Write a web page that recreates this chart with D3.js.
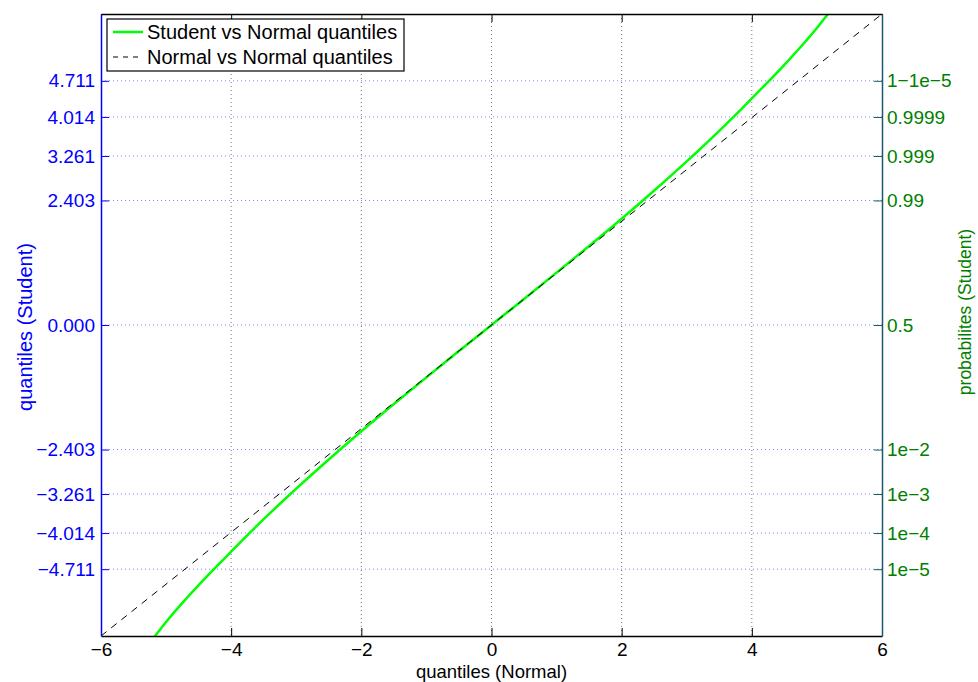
<!DOCTYPE html>
<html>
<head>
<meta charset="utf-8">
<script src="https://cdn.jsdelivr.net/npm/d3@7"></script>
<style>
  body { margin: 0; background: #fff; }
  svg { display: block; font-family: "Liberation Sans", Arial, Helvetica, sans-serif; }
</style>
</head>
<body>
<svg id="chart" width="978" height="682"></svg>
<script>
// ---- data ----
const xTicks = [-6, -4, -2, 0, 2, 4, 6];
const xTickLabels = ["\u22126", "\u22124", "\u22122", "0", "2", "4", "6"];
const yTicks = [-4.711, -4.014, -3.261, -2.403, 0, 2.403, 3.261, 4.014, 4.711];
const yTickLabels = ["\u22124.711", "\u22124.014", "\u22123.261", "\u22122.403", "0.000", "2.403", "3.261", "4.014", "4.711"];
const probLabels = ["1e\u22125", "1e\u22124", "1e\u22123", "1e\u22122", "0.5", "0.99", "0.999", "0.9999", "1\u22121e\u22125"];
// Student (50 dof) quantile vs normal quantile
const normalQ  = [-5.3, -5.17, -5, -4.5, -4.265, -4, -3.719, -3.5, -3.09, -3, -2.5, -2.326, -2, -1.5, -1, -0.5, 0, 0.5, 1, 1.5, 2, 2.326, 2.5, 3, 3.09, 3.5, 3.719, 4, 4.265, 4.5, 5, 5.17, 5.3];
const studentQ = [-6.2, -6.0, -5.73, -5.02, -4.711, -4.37, -4.014, -3.746, -3.261, -3.157, -2.594, -2.403, -2.051, -1.525, -1.01, -0.503, 0, 0.503, 1.01, 1.525, 2.051, 2.403, 2.594, 3.157, 3.261, 3.746, 4.014, 4.37, 4.711, 5.02, 5.73, 6.0, 6.2];
const diagX = [-6, 6];
const diagY = [-6, 6];
const seriesNames = ["Student vs Normal quantiles", "Normal vs Normal quantiles"];

// ---- layout ----
const L = 101, R = 882, T = 14, B = 636;
const svg = d3.select("#chart");
const x = d3.scaleLinear().domain([-6, 6]).range([L, R]);
const y = d3.scaleLinear().domain([-6, 6]).range([B, T]);

const blue = "#0000ff", green = "#008000", lime = "#00ff00";

// grid
const grid = svg.append("g");
grid.selectAll("line.gx").data(xTicks.slice(1, -1)).join("line")
  .attr("x1", d => x(d)).attr("x2", d => x(d)).attr("y1", T).attr("y2", B)
  .attr("stroke", "#7a7a7a").attr("stroke-width", 1).attr("stroke-dasharray", "1,3");
grid.selectAll("line.gy").data(yTicks).join("line")
  .attr("x1", L).attr("x2", R).attr("y1", d => y(d)).attr("y2", d => y(d))
  .attr("stroke", "#7f7fff").attr("stroke-width", 1).attr("stroke-dasharray", "1,3");

// clip
svg.append("clipPath").attr("id", "clip").append("rect")
  .attr("x", L).attr("y", T).attr("width", R - L).attr("height", B - T);

const plot = svg.append("g").attr("clip-path", "url(#clip)");
const line = d3.line().x(d => x(d[0])).y(d => y(d[1])).curve(d3.curveMonotoneX);
plot.append("path").datum(normalQ.map((v, i) => [v, studentQ[i]]))
  .attr("d", line).attr("fill", "none").attr("stroke", lime).attr("stroke-width", 2.5);
plot.append("path").datum(diagX.map((v, i) => [v, diagY[i]]))
  .attr("d", d3.line().x(d => x(d[0])).y(d => y(d[1])))
  .attr("fill", "none").attr("stroke", "#000").attr("stroke-width", 1).attr("stroke-dasharray", "7,6");

// axes
const xAxisB = d3.axisBottom(x).tickValues(xTicks).tickFormat((d, i) => xTickLabels[i]).tickSizeInner(-8).tickSizeOuter(0).tickPadding(7);
const gxb = svg.append("g").attr("transform", `translate(0,${B})`).call(xAxisB);
gxb.select(".domain").attr("stroke", "#000").attr("stroke-width", 1.5);
gxb.selectAll(".tick line").attr("stroke", "#000");
gxb.selectAll("text").attr("font-size", 19).attr("fill", "#000");

const xAxisT = d3.axisTop(x).tickValues(xTicks).tickFormat("").tickSizeInner(-8).tickSizeOuter(0);
const gxt = svg.append("g").attr("transform", `translate(0,${T})`).call(xAxisT);
gxt.select(".domain").attr("stroke", "#000").attr("stroke-width", 1.5);
gxt.selectAll(".tick line").attr("stroke", "#000");

const yAxisL = d3.axisLeft(y).tickValues(yTicks).tickFormat((d, i) => yTickLabels[i]).tickSizeInner(-8).tickSizeOuter(0).tickPadding(6);
const gyl = svg.append("g").attr("transform", `translate(${L},0)`).call(yAxisL);
gyl.select(".domain").attr("stroke", blue).attr("stroke-width", 1.5);
gyl.selectAll(".tick line").attr("stroke", blue);
gyl.selectAll("text").attr("font-size", 19).attr("fill", blue);

const yAxisR = d3.axisRight(y).tickValues(yTicks).tickFormat((d, i) => probLabels[i]).tickSizeInner(-8).tickSizeOuter(0).tickPadding(5);
const gyr = svg.append("g").attr("transform", `translate(${R},0)`).call(yAxisR);
gyr.select(".domain").attr("stroke", "#1a5a70").attr("stroke-width", 1.5);
gyr.selectAll(".tick line").attr("stroke", "#1a6040");
gyr.selectAll("text").attr("font-size", 19).attr("fill", green);

// axis titles
svg.append("text").attr("x", (L + R) / 2).attr("y", 678).attr("text-anchor", "middle")
  .attr("font-size", 18.5).attr("fill", "#000").text("quantiles (Normal)");
svg.append("text").attr("transform", "translate(32,327) rotate(-90)").attr("text-anchor", "middle")
  .attr("font-size", 20).attr("fill", blue).text("quantiles (Student)");
svg.append("text").attr("transform", "translate(971,312) rotate(-90)").attr("text-anchor", "middle")
  .attr("font-size", 17.5).attr("fill", green).text("probabilites (Student)");

// legend
const lg = svg.append("g");
lg.append("rect").attr("x", 107).attr("y", 19).attr("width", 297).attr("height", 52)
  .attr("fill", "#fff").attr("stroke", "#000").attr("stroke-width", 1.2);
const legendRows = [
  { name: seriesNames[0], stroke: lime, w: 2.5, dash: null },
  { name: seriesNames[1], stroke: "#000", w: 1, dash: "5,5" }
];
legendRows.forEach((r, i) => {
  const cy = 32 + i * 25;
  lg.append("line").attr("x1", 113).attr("x2", 143).attr("y1", cy).attr("y2", cy)
    .attr("stroke", r.stroke).attr("stroke-width", r.w).attr("stroke-dasharray", r.dash);
  lg.append("text").attr("x", 147).attr("y", cy + 7).attr("font-size", 20).attr("fill", "#000").text(r.name);
});
</script>
</body>
</html>
